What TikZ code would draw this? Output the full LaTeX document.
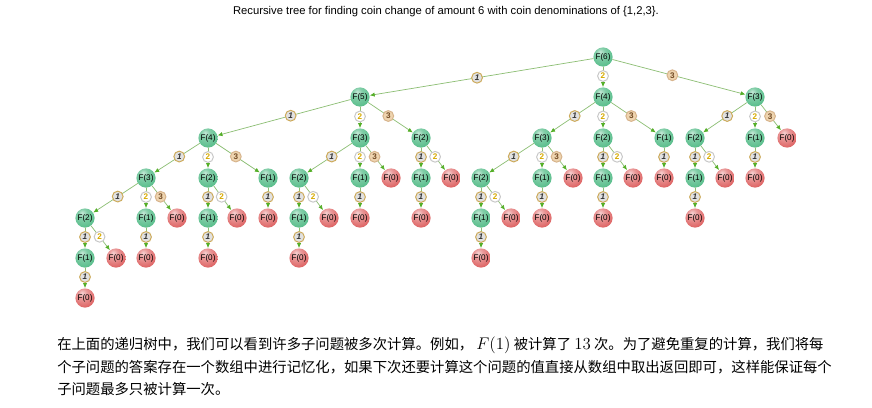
\documentclass[tikz,border=0pt]{standalone}
\usepackage[no-math]{fontspec}
\setmainfont{Liberation Sans}
\newfontfamily\cjkfont{Noto Sans CJK SC}
\usetikzlibrary{arrows.meta}
\definecolor{nodegreen}{RGB}{90,190,140}
\definecolor{nodered}{RGB}{222,100,100}
\definecolor{edgegreen}{RGB}{140,190,115}
\definecolor{arrowgreen}{RGB}{85,175,40}
\definecolor{coinrim}{RGB}{205,170,90}
\definecolor{coinface}{RGB}{225,225,225}
\definecolor{silverrim}{RGB}{200,200,200}
\definecolor{coinyellow}{RGB}{215,170,0}
\definecolor{tanrim}{RGB}{215,180,140}
\definecolor{tanface}{RGB}{238,212,175}
\pgfdeclareradialshading{greenball}{\pgfpoint{-8bp}{14bp}}{%
  color(0bp)=(nodegreen!35!white); color(12bp)=(nodegreen!75!white);
  color(32bp)=(nodegreen); color(50bp)=(nodegreen!75!black);
  color(70bp)=(nodegreen!55!black)}
\pgfdeclareradialshading{redball}{\pgfpoint{-8bp}{14bp}}{%
  color(0bp)=(nodered!30!white); color(12bp)=(nodered!65!white);
  color(32bp)=(nodered); color(50bp)=(nodered!75!black);
  color(70bp)=(nodered!55!black)}
\begin{document}
\begin{tikzpicture}[x=0.025cm, y=-0.025cm, line cap=round, line join=round,
    fn/.style={circle, inner sep=0pt, minimum size=0.48cm, shading=greenball,
      font=\fontsize{5.8}{6}\selectfont},
    fz/.style={fn, shading=redball},
    edge/.style={draw=edgegreen, line width=0.5pt,
      -{Latex[length=3.5pt,width=3pt,color=arrowgreen]}},
    coin/.style={circle, inner sep=0pt, minimum size=0.27cm, line width=0.7pt,
      pos=0.45, font=\fontsize{5.8}{6}\selectfont\bfseries},
    coina/.style={coin, draw=coinrim, fill=coinface, text=black!80},
    coinb/.style={coin, draw=silverrim, fill=white, text=coinyellow},
    coinc/.style={coin, draw=tanrim, fill=tanface, text=brown!60!black}]
  \useasboundingbox[fill=white] (0,0) rectangle (872,407);
  \node[font=\fontsize{8}{9}\selectfont] (title) at (446,12)
    {Recursive tree for finding coin change of amount 6 with coin denominations of \{1,2,3\}.};
  % level 0 and 1
  \node[fn] (r) at (603,57) {F(6)};
  \node[fn] (r1) at (360,97) {F(5)};
  \node[fn] (r2) at (603,97) {F(4)};
  \node[fn] (r3) at (755,97) {F(3)};
  % level 2
  \node[fn] (r11) at (208,138) {F(4)};
  \node[fn] (r12) at (360,138) {F(3)};
  \node[fn] (r13) at (421,138) {F(2)};
  \node[fn] (r21) at (542,138) {F(3)};
  \node[fn] (r22) at (603,138) {F(2)};
  \node[fn] (r23) at (664,138) {F(1)};
  \node[fn] (r31) at (695,138) {F(2)};
  \node[fn] (r32) at (755,138) {F(1)};
  \node[fz] (r33) at (787,138) {F(0)};
  % level 3
  \node[fn] (r111) at (146,178) {F(3)};
  \node[fn] (r112) at (208,178) {F(2)};
  \node[fn] (r113) at (268,178) {F(1)};
  \node[fn] (r121) at (299,178) {F(2)};
  \node[fn] (r122) at (360,178) {F(1)};
  \node[fz] (r123) at (391,178) {F(0)};
  \node[fn] (r131) at (421,178) {F(1)};
  \node[fz] (r132) at (451,178) {F(0)};
  \node[fn] (r211) at (481,178) {F(2)};
  \node[fn] (r212) at (542,178) {F(1)};
  \node[fz] (r213) at (573,178) {F(0)};
  \node[fn] (r221) at (603,178) {F(1)};
  \node[fz] (r222) at (633,178) {F(0)};
  \node[fz] (r231) at (664,178) {F(0)};
  \node[fn] (r311) at (695,178) {F(1)};
  \node[fz] (r312) at (725,178) {F(0)};
  \node[fz] (r321) at (755,178) {F(0)};
  % level 4
  \node[fn] (r1111) at (85,218) {F(2)};
  \node[fn] (r1112) at (146,218) {F(1)};
  \node[fz] (r1113) at (177,218) {F(0)};
  \node[fn] (r1121) at (208,218) {F(1)};
  \node[fz] (r1122) at (237,218) {F(0)};
  \node[fz] (r1131) at (268,218) {F(0)};
  \node[fn] (r1211) at (299,218) {F(1)};
  \node[fz] (r1212) at (329,218) {F(0)};
  \node[fz] (r1221) at (360,218) {F(0)};
  \node[fz] (r1311) at (421,218) {F(0)};
  \node[fn] (r2111) at (481,218) {F(1)};
  \node[fz] (r2112) at (511,218) {F(0)};
  \node[fz] (r2121) at (542,218) {F(0)};
  \node[fz] (r2211) at (603,218) {F(0)};
  \node[fz] (r3111) at (695,218) {F(0)};
  % level 5 and 6
  \node[fn] (r11111) at (85,258) {F(1)};
  \node[fz] (r11112) at (116,258) {F(0)};
  \node[fz] (r11121) at (146,258) {F(0)};
  \node[fz] (r11211) at (208,258) {F(0)};
  \node[fz] (r12111) at (299,258) {F(0)};
  \node[fz] (r21111) at (481,258) {F(0)};
  \node[fz] (r111111) at (85,298) {F(0)};
  % edges
  \draw[edge] (r) -- node[coina, pos=0.52] {\itshape 1} (r1);
  \draw[edge] (r) -- node[coinb] {2} (r2);
  \draw[edge] (r) -- node[coinc] {3} (r3);
  \draw[edge] (r1) -- node[coina] {\itshape 1} (r11);
  \draw[edge] (r1) -- node[coinb] {2} (r12);
  \draw[edge] (r1) -- node[coinc] {3} (r13);
  \draw[edge] (r2) -- node[coina] {\itshape 1} (r21);
  \draw[edge] (r2) -- node[coinb] {2} (r22);
  \draw[edge] (r2) -- node[coinc] {3} (r23);
  \draw[edge] (r3) -- node[coina] {\itshape 1} (r31);
  \draw[edge] (r3) -- node[coinb] {2} (r32);
  \draw[edge] (r3) -- node[coinc] {3} (r33);
  \draw[edge] (r11) -- node[coina] {\itshape 1} (r111);
  \draw[edge] (r11) -- node[coinb] {2} (r112);
  \draw[edge] (r11) -- node[coinc] {3} (r113);
  \draw[edge] (r12) -- node[coina] {\itshape 1} (r121);
  \draw[edge] (r12) -- node[coinb] {2} (r122);
  \draw[edge] (r12) -- node[coinc] {3} (r123);
  \draw[edge] (r13) -- node[coina] {\itshape 1} (r131);
  \draw[edge] (r13) -- node[coinb] {2} (r132);
  \draw[edge] (r21) -- node[coina] {\itshape 1} (r211);
  \draw[edge] (r21) -- node[coinb] {2} (r212);
  \draw[edge] (r21) -- node[coinc] {3} (r213);
  \draw[edge] (r22) -- node[coina] {\itshape 1} (r221);
  \draw[edge] (r22) -- node[coinb] {2} (r222);
  \draw[edge] (r23) -- node[coina] {\itshape 1} (r231);
  \draw[edge] (r31) -- node[coina] {\itshape 1} (r311);
  \draw[edge] (r31) -- node[coinb] {2} (r312);
  \draw[edge] (r32) -- node[coina] {\itshape 1} (r321);
  \draw[edge] (r111) -- node[coina] {\itshape 1} (r1111);
  \draw[edge] (r111) -- node[coinb] {2} (r1112);
  \draw[edge] (r111) -- node[coinc] {3} (r1113);
  \draw[edge] (r112) -- node[coina] {\itshape 1} (r1121);
  \draw[edge] (r112) -- node[coinb] {2} (r1122);
  \draw[edge] (r113) -- node[coina] {\itshape 1} (r1131);
  \draw[edge] (r121) -- node[coina] {\itshape 1} (r1211);
  \draw[edge] (r121) -- node[coinb] {2} (r1212);
  \draw[edge] (r122) -- node[coina] {\itshape 1} (r1221);
  \draw[edge] (r131) -- node[coina] {\itshape 1} (r1311);
  \draw[edge] (r211) -- node[coina] {\itshape 1} (r2111);
  \draw[edge] (r211) -- node[coinb] {2} (r2112);
  \draw[edge] (r212) -- node[coina] {\itshape 1} (r2121);
  \draw[edge] (r221) -- node[coina] {\itshape 1} (r2211);
  \draw[edge] (r311) -- node[coina] {\itshape 1} (r3111);
  \draw[edge] (r1111) -- node[coina] {\itshape 1} (r11111);
  \draw[edge] (r1111) -- node[coinb] {2} (r11112);
  \draw[edge] (r1112) -- node[coina] {\itshape 1} (r11121);
  \draw[edge] (r1121) -- node[coina] {\itshape 1} (r11211);
  \draw[edge] (r1211) -- node[coina] {\itshape 1} (r12111);
  \draw[edge] (r2111) -- node[coina] {\itshape 1} (r21111);
  \draw[edge] (r11111) -- node[coina] {\itshape 1} (r111111);
  % text below
  \node[anchor=north west, align=left, inner sep=0pt,
    font=\cjkfont\fontsize{10.2}{16}\selectfont] (note) at (57,337)
    {在上面的递归树中，我们可以看到许多子问题被多次计算。例如， {\fontsize{13}{16}\selectfont$F(1)$} 被计算了 {\fontsize{13}{16}\selectfont$13$} 次。为了避免重复的计算，我们将每\\
     个子问题的答案存在一个数组中进行记忆化，如果下次还要计算这个问题的值直接从数组中取出返回即可，这样能保证每个\\
     子问题最多只被计算一次。};
\end{tikzpicture}
\end{document}
